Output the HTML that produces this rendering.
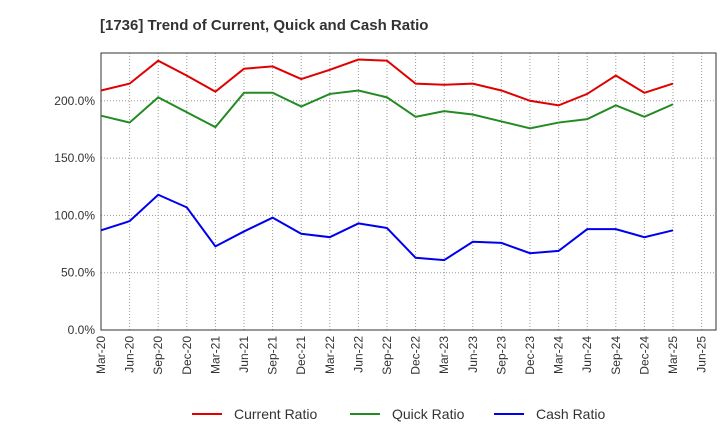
<!DOCTYPE html>
<html><head><meta charset="utf-8"><style>
body{margin:0;background:#fff;font-family:"Liberation Sans",sans-serif}
</style></head><body>
<svg id="c" width="720" height="440" xmlns="http://www.w3.org/2000/svg">
<text x="100" y="30" font-size="15" font-weight="bold" fill="#333">[1736]  Trend of Current, Quick and Cash Ratio</text>
<g id="grid"></g><g id="axes"></g><g id="series"></g><g id="legend"></g>
</svg>
<script>
const categories=["Mar-20","Jun-20","Sep-20","Dec-20","Mar-21","Jun-21","Sep-21","Dec-21","Mar-22","Jun-22","Sep-22","Dec-22","Mar-23","Jun-23","Sep-23","Dec-23","Mar-24","Jun-24","Sep-24","Dec-24","Mar-25","Jun-25"];
const currentRatio=[209,215,235,222,208,228,230,219,227,236,235,215,214,215,209,200,196,206,222,207,215];
const quickRatio=[187,181,203,190,177,207,207,195,206,209,203,186,191,188,182,176,181,184,196,186,197];
const cashRatio=[87,95,118,107,73,86,98,84,81,93,89,63,61,77,76,67,69,88,88,81,87];
const yTicks=[0,50,100,150,200];
const yTickLabels=["0.0%","50.0%","100.0%","150.0%","200.0%"];
const NS="http://www.w3.org/2000/svg";
const L=101,R=716,T=53,B=330,yMax=241.7;
const x=i=>L+i*28.6;
const y=v=>B-(v/yMax)*(B-T);
function mk(tag,attrs,parent){const e=document.createElementNS(NS,tag);for(const k in attrs)e.setAttribute(k,attrs[k]);parent.appendChild(e);return e;}
const grid=document.getElementById('grid'),axes=document.getElementById('axes'),ser=document.getElementById('series'),leg=document.getElementById('legend');
categories.forEach((c,i)=>{
 const l=mk('line',{x1:x(i),x2:x(i),y1:T,y2:B,stroke:'#999','stroke-dasharray':'1,2','stroke-width':1},grid);
 
 
 const t=mk('text',{x:0,y:0,'font-size':12,fill:'#333','text-anchor':'end',transform:`translate(${x(i)+4},${B+6}) rotate(-90)`},axes);
 t.textContent=c;
 
 
});
yTicks.forEach((v,i)=>{
 const l=mk('line',{x1:L,x2:R,y1:y(v),y2:y(v),stroke:'#999','stroke-dasharray':'1,2','stroke-width':1},grid);
 
 
 const t=mk('text',{x:L-6,y:y(v)+4,'font-size':12,fill:'#333','text-anchor':'end'},axes);
 t.textContent=yTickLabels[i];
 
 
});
const frame=mk('rect',{x:L,y:T,width:R-L,height:B-T,fill:'none',stroke:'#333','stroke-width':1},axes);


const series=[["Current Ratio",currentRatio,"#e00000","current-ratio-line"],["Quick Ratio",quickRatio,"#228b22","quick-ratio-line"],["Cash Ratio",cashRatio,"#0000ee","cash-ratio-line"]];
const legX=[192,350,494];
series.forEach((s,k)=>{
 const p=mk('polyline',{points:s[1].map((v,i)=>x(i)+','+y(v)).join(' '),fill:'none',stroke:s[2],'stroke-width':2},ser);
 
 
 const g=mk('g',{},leg);
 
 
 mk('line',{x1:legX[k],x2:legX[k]+30,y1:414,y2:414,stroke:s[2],'stroke-width':2},g);
 const t=mk('text',{x:legX[k]+42,y:419,'font-size':14,fill:'#333'},g);
 t.textContent=s[0];
});
</script>
</body></html>
